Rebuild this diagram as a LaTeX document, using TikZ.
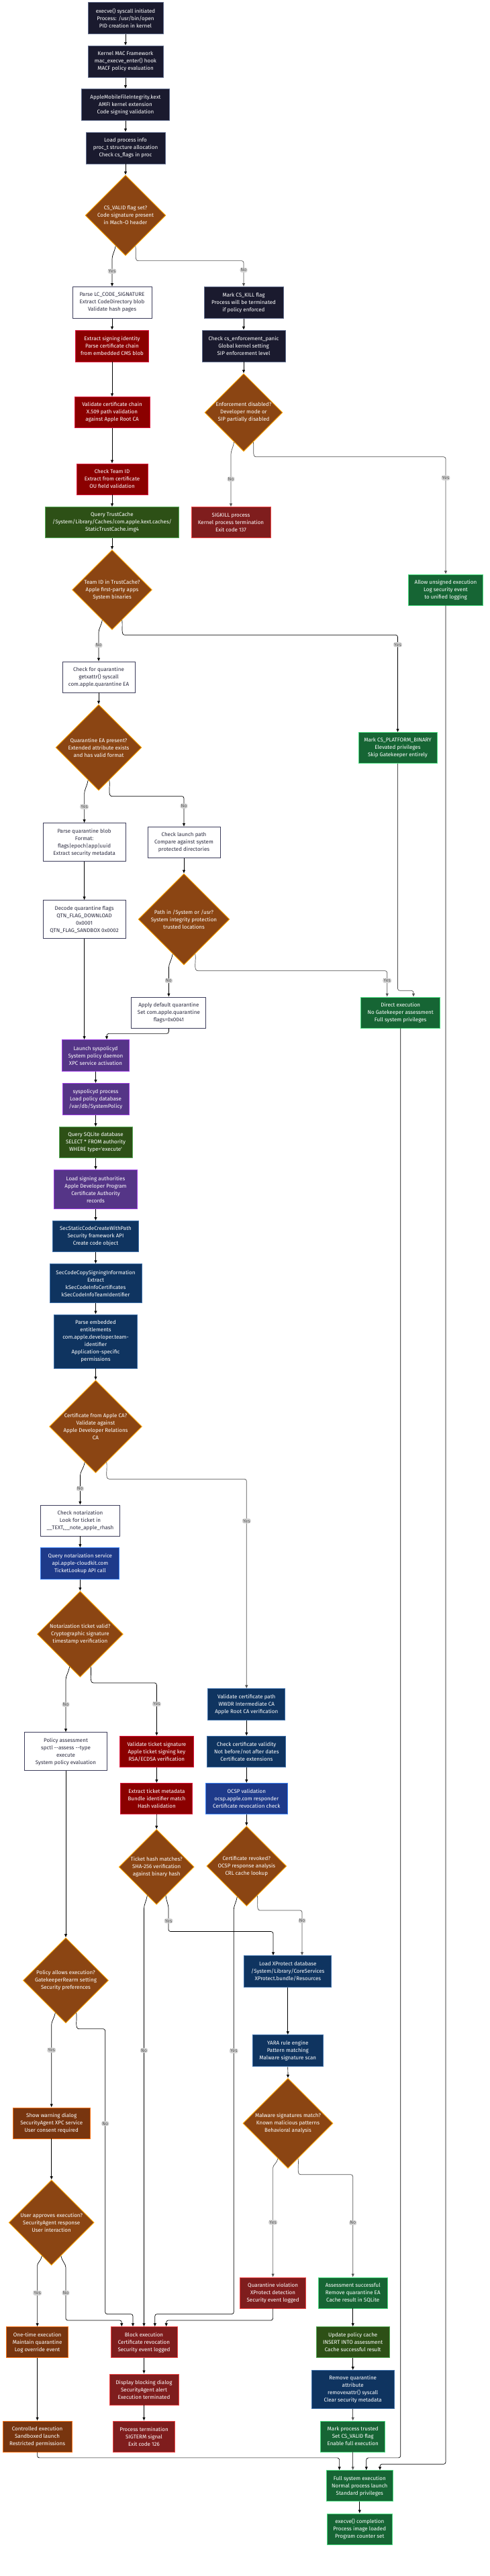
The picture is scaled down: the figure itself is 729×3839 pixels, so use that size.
\documentclass[tikz,border=0pt]{standalone}
\usepackage{fontspec}
\setmainfont{Fira Sans}
\usepackage{xcolor}
\usepackage{tikz}
\usetikzlibrary{shapes.geometric,arrows.meta,calc}
\definecolor{kernelnavy}{RGB}{26,26,46}
\definecolor{kernelnavyedge}{RGB}{96,108,140}
\definecolor{plainedge}{RGB}{62,62,92}
\definecolor{plaintext}{RGB}{44,44,64}
\definecolor{certred}{RGB}{139,0,0}
\definecolor{certedge}{RGB}{220,20,60}
\definecolor{killred}{RGB}{127,29,29}
\definecolor{killedge}{RGB}{239,68,68}
\definecolor{dbgreen}{RGB}{45,80,22}
\definecolor{dbedge}{RGB}{84,170,84}
\definecolor{okgreen}{RGB}{22,101,52}
\definecolor{okedge}{RGB}{74,222,128}
\definecolor{daemonpurple}{RGB}{85,53,135}
\definecolor{daemonedge}{RGB}{156,60,226}
\definecolor{apinavy}{RGB}{15,52,96}
\definecolor{apiedge}{RGB}{62,112,170}
\definecolor{netblue}{RGB}{30,58,138}
\definecolor{netedge}{RGB}{59,130,246}
\definecolor{userbrown}{RGB}{120,53,15}
\definecolor{useredge}{RGB}{249,115,22}
\definecolor{decisionfill}{RGB}{139,69,19}
\definecolor{decisionedge}{RGB}{255,165,0}
\definecolor{lblfill}{RGB}{212,212,212}
\definecolor{lbltext}{RGB}{85,85,85}
\definecolor{edgegray}{RGB}{80,80,80}

\begin{document}
\begin{tikzpicture}[x=1pt,y=1pt,
    box/.style={rectangle,line width=0.9pt,align=center,text=white,inner sep=2pt,font=\fontsize{8}{11}\selectfont},
    sz/.style 2 args={minimum width=#1pt,minimum height=#2pt},
    navybox/.style={box,draw=kernelnavyedge,fill=kernelnavy},
    plainbox/.style={box,draw=plainedge,fill=white,text=plaintext},
    certbox/.style={box,draw=certedge,fill=certred},
    killbox/.style={box,draw=killedge,fill=killred},
    dbbox/.style={box,draw=dbedge,fill=dbgreen},
    okbox/.style={box,draw=okedge,fill=okgreen},
    daemonbox/.style={box,draw=daemonedge,fill=daemonpurple},
    apibox/.style={box,draw=apiedge,fill=apinavy},
    netbox/.style={box,draw=netedge,fill=netblue},
    userbox/.style={box,draw=useredge,fill=userbrown},
    decision/.style={diamond,aspect=1,inner sep=0pt,line width=0.9pt,draw=decisionedge,fill=decisionfill,align=center,text=white,font=\fontsize{8}{11}\selectfont},
    lbl/.style={fill=lblfill,text=lbltext,inner sep=1.2pt,font=\fontsize{7}{8}\selectfont},
    arr/.style={-{Latex[length=5pt,width=4.5pt]},line width=0.7pt,rounded corners=3pt},
    garr/.style={arr,draw=edgegray}]
\useasboundingbox (0,0) rectangle (729,-3839);

\node[navybox,sz={112}{47}] (execve) at (187,-27) {execve() syscall initiated\\Process: /usr/bin/open\\PID creation in kernel};
\node[navybox,sz={112}{47}] (macf) at (187,-91.7) {Kernel MAC Framework\\mac\_execve\_enter() hook\\MACF policy evaluation};
\node[navybox,sz={131}{47}] (amfi) at (187,-156) {AppleMobileFileIntegrity.kext\\AMFI kernel extension\\Code signing validation};
\node[navybox,sz={118}{47}] (procinfo) at (187,-220.5) {Load process info\\proc\_t structure allocation\\Check cs\_flags in proc};
\node[decision,minimum size=120pt] (csvalid) at (187,-321) {CS\_VALID flag set?\\Code signature present\\in Mach-O header};
\node[plainbox,sz={118}{47}] (parselc) at (167,-451) {Parse LC\_CODE\_SIGNATURE\\Extract CodeDirectory blob\\Validate hash pages};
\node[navybox,sz={118}{47}] (cskill) at (363,-451) {Mark CS\_KILL flag\\Process will be terminated\\if policy enforced};
\node[certbox,sz={109}{47}] (signid) at (167,-515.5) {Extract signing identity\\Parse certificate chain\\from embedded CMS blob};
\node[navybox,sz={124}{47}] (enfpanic) at (363,-515.5) {Check cs\_enforcement\_panic\\Global kernel setting\\SIP enforcement level};
\node[certbox,sz={112}{46}] (certchain) at (167,-614.7) {Validate certificate chain\\X.509 path validation\\against Apple Root CA};
\node[decision,minimum size=116pt] (enfoff) at (363,-614.7) {Enforcement disabled?\\Developer mode or\\SIP partially disabled};
\node[certbox,sz={106}{46}] (teamid) at (167,-714) {Check Team ID\\Extract from certificate\\OU field validation};
\node[killbox,sz={118}{46}] (sigkill) at (344,-778.7) {SIGKILL process\\Kernel process termination\\Exit code 137};
\node[dbbox,sz={199}{46}] (trustcache) at (167,-778.7) {Query TrustCache\\/System/Library/Caches/com.apple.kext.caches/\\StaticTrustCache.img4};
\node[decision,minimum size=119pt] (intrust) at (167,-879) {Team ID in TrustCache?\\Apple first-party apps\\System binaries};
\node[okbox,sz={111}{46}] (allowunsigned) at (664,-879) {Allow unsigned execution\\Log security event\\to unified logging};
\node[plainbox,sz={108}{46}] (chkquar) at (147,-1009) {Check for quarantine\\getxattr() syscall\\com.apple.quarantine EA};
\node[decision,minimum size=128pt] (quarea) at (147,-1114) {Quarantine EA present?\\Extended attribute exists\\and has valid format};
\node[okbox,sz={117}{46}] (platbin) at (592.5,-1114.7) {Mark CS\_PLATFORM\_BINARY\\Elevated privileges\\Skip Gatekeeper entirely};
\node[plainbox,sz={123}{57}] (parseblob) at (125.6,-1255.3) {Parse quarantine blob\\Format:\\flags|epoch|app|uuid\\Extract security metadata};
\node[plainbox,sz={108}{46}] (launchpath) at (274,-1255.3) {Check launch path\\Compare against system\\protected directories};
\node[plainbox,sz={123}{57}] (qflags) at (125.6,-1370.3) {Decode quarantine flags\\QTN\_FLAG\_DOWNLOAD\\0x0001\\QTN\_FLAG\_SANDBOX 0x0002};
\node[decision,minimum size=136pt] (syspath) at (274,-1370) {Path in /System or /usr?\\System integrity protection\\trusted locations};
\node[plainbox,sz={111}{46}] (defquar) at (251.4,-1509) {Apply default quarantine\\Set com.apple.quarantine\\flags=0x0041};
\node[okbox,sz={118}{46}] (directexec) at (596.7,-1509) {Direct execution\\No Gatekeeper assessment\\Full system privileges};
\node[daemonbox,sz={100}{47}] (launchspd) at (142.5,-1573.3) {Launch syspolicyd\\System policy daemon\\XPC service activation};
\node[daemonbox,sz={99}{47}] (spdproc) at (142.5,-1638) {syspolicyd process\\Load policy database\\/var/db/SystemPolicy};
\node[dbbox,sz={109}{46}] (sqlq) at (142.5,-1702.5) {Query SQLite database\\SELECT * FROM authority\\WHERE type=\textquotesingle execute\textquotesingle};
\node[daemonbox,sz={124}{58}] (authorities) at (142.5,-1772.5) {Load signing authorities\\Apple Developer Program\\Certificate Authority\\records};
\node[apibox,sz={128.5}{46}] (staticcode) at (142.5,-1842.5) {SecStaticCodeCreateWithPath\\Security framework API\\Create code object};
\node[apibox,sz={137}{58}] (signinfo) at (142.5,-1912.7) {SecCodeCopySigningInformation\\Extract\\kSecCodeInfoCertificates\\kSecCodeInfoTeamIdentifier};
\node[apibox,sz={124}{80}] (entitlements) at (142.5,-1999) {Parse embedded\\entitlements\\com.apple.developer.team-\\identifier\\Application-specific\\permissions};
\node[decision,minimum size=138pt] (appleca) at (142.5,-2126) {Certificate from Apple CA?\\Validate against\\Apple Developer Relations\\CA};
\node[plainbox,sz={118}{46}] (chknotar) at (119.4,-2266) {Check notarization\\Look for ticket in\\\_\_TEXT,\_\_note\_apple\_rhash};
\node[netbox,sz={117}{47}] (notarsvc) at (119.4,-2330.3) {Query notarization service\\api.apple-cloudkit.com\\TicketLookup API call};
\node[decision,minimum size=128pt] (ticketok) at (119.4,-2435.3) {Notarization ticket valid?\\Cryptographic signature\\timestamp verification};
\node[apibox,sz={115}{47}] (certpath) at (367.3,-2540.3) {Validate certificate path\\WWDR Intermediate CA\\Apple Root CA verification};
\node[plainbox,sz={123}{57}] (policy) at (98,-2610.3) {Policy assessment\\spctl -{}-assess -{}-type\\execute\\System policy evaluation};
\node[certbox,sz={110}{46}] (ticketsig) at (233.4,-2610.3) {Validate ticket signature\\Apple ticket signing key\\RSA/ECDSA verification};
\node[apibox,sz={117}{46}] (certvalid) at (367.3,-2610.3) {Check certificate validity\\Not before/not after dates\\Certificate extensions};
\node[certbox,sz={107}{46}] (ticketmeta) at (233.4,-2680.5) {Extract ticket metadata\\Bundle identifier match\\Hash validation};
\node[netbox,sz={122}{46}] (ocsp) at (367.3,-2680.5) {OCSP validation\\ocsp.apple.com responder\\Certificate revocation check};
\node[decision,minimum size=112pt] (hashok) at (233.2,-2782.3) {Ticket hash matches?\\SHA-256 verification\\against binary hash};
\node[decision,minimum size=119pt] (revoked) at (367.3,-2781) {Certificate revoked?\\OCSP response analysis\\CRL cache lookup};
\node[decision,minimum size=127pt] (allows) at (98,-2951.3) {Policy allows execution?\\GatekeeperRearm setting\\Security preferences};
\node[apibox,sz={130}{47}] (xprotect) at (428.8,-2938.2) {Load XProtect database\\/System/Library/CoreServices\\XProtect.bundle/Resources};
\node[apibox,sz={105}{47}] (yara) at (428.8,-3056.3) {YARA rule engine\\Pattern matching\\Malware signature scan};
\node[decision,minimum size=134pt] (malware) at (429,-3164.3) {Malware signatures match?\\Known malicious patterns\\Behavioral analysis};
\node[userbox,sz={114.5}{46}] (warning) at (76.7,-3164) {Show warning dialog\\SecurityAgent XPC service\\User consent required};
\node[decision,minimum size=127pt] (approves) at (76.7,-3312.3) {User approves execution?\\SecurityAgent response\\User interaction};
\node[killbox,sz={98.6}{46}] (violation) at (406.6,-3417) {Quarantine violation\\XProtect detection\\Security event logged};
\node[okbox,sz={103}{46}] (assessok) at (525.7,-3417) {Assessment successful\\Remove quarantine EA\\Cache result in SQLite};
\node[userbox,sz={92.5}{46}] (onetime) at (55.6,-3490.8) {One-time execution\\Maintain quarantine\\Log override event};
\node[killbox,sz={99}{46}] (block) at (214.5,-3490.8) {Block execution\\Certificate revocation\\Security event logged};
\node[dbbox,sz={109}{46}] (polcache) at (525.7,-3490.8) {Update policy cache\\INSERT INTO assessment\\Cache successful result};
\node[killbox,sz={103}{46}] (blockdlg) at (214.5,-3561) {Display blocking dialog\\SecurityAgent alert\\Execution terminated};
\node[apibox,sz={123}{57}] (rmquar) at (525.7,-3561) {Remove quarantine\\attribute\\removexattr() syscall\\Clear security metadata};
\node[userbox,sz={103}{46}] (controlled) at (55.6,-3631) {Controlled execution\\Sandboxed launch\\Restricted permissions};
\node[killbox,sz={92.5}{46}] (sigterm) at (214.5,-3631) {Process termination\\SIGTERM signal\\Exit code 126};
\node[okbox,sz={96}{46}] (trusted) at (525.7,-3631) {Mark process trusted\\Set CS\_VALID flag\\Enable full execution};
\node[okbox,sz={99.5}{46}] (fullexec) at (535.8,-3704.7) {Full system execution\\Normal process launch\\Standard privileges};
\node[okbox,sz={97}{46}] (done) at (535.8,-3769) {execve() completion\\Process image loaded\\Program counter set};

\foreach \a/\b in {execve/macf,macf/amfi,amfi/procinfo,procinfo/csvalid,
    parselc/signid,signid/certchain,certchain/teamid,teamid/trustcache,trustcache/intrust,
    cskill/enfpanic,enfpanic/enfoff,chkquar/quarea,parseblob/qflags,launchpath/syspath,
    launchspd/spdproc,spdproc/sqlq,sqlq/authorities,authorities/staticcode,staticcode/signinfo,
    signinfo/entitlements,entitlements/appleca,chknotar/notarsvc,notarsvc/ticketok,
    certpath/certvalid,certvalid/ocsp,ticketsig/ticketmeta,ticketmeta/hashok,ocsp/revoked,
    policy/allows,xprotect/yara,yara/malware,warning/approves,onetime/controlled,
    block/blockdlg,blockdlg/sigterm,assessok/polcache,polcache/rmquar,fullexec/done}
  \draw[arr] (\a.south) -- (\b.north);
\draw[garr] (rmquar.south) -- (trusted.north);

\draw[arr] (csvalid.-108) to[out=-100,in=90] ($(parselc.north)+(0,38)$) -- node[lbl,pos=0.4] (yes1) {Yes} (parselc.north);
\draw[garr] (csvalid.-72) to[out=-80,in=180] ++(7,-22) -| node[lbl,pos=0.68] (no1) {No} (cskill.north);
\draw[garr] (enfoff.-108) to[out=-100,in=90] ($(sigkill.north)+(0,75)$) -- node[lbl,pos=0.45] (no2) {No} (sigkill.north);
\draw[garr] (enfoff.-72) to[out=-80,in=180] ++(7,-22) -| node[lbl,pos=0.59] (yes2) {Yes} (allowunsigned.north);
\draw[arr] (intrust.-108) to[out=-100,in=90] ($(chkquar.north)+(0,40)$) -- node[lbl,pos=0.4] (no3) {No} (chkquar.north);
\draw[arr] (intrust.-72) to[out=-80,in=180] ++(7,-22) -| node[lbl,pos=0.55] (yes3) {Yes} (platbin.north);
\draw[arr] (quarea.-108) to[out=-100,in=90] ($(parseblob.north)+(0,40)$) -- node[lbl,pos=0.4] (yes4) {Yes} (parseblob.north);
\draw[arr] (quarea.-72) to[out=-80,in=180] ++(7,-24) -| node[lbl,pos=0.66] (no4) {No} (launchpath.north);
\draw[arr] (syspath.-108) to[out=-100,in=90] ($(defquar.north)+(0,40)$) -- node[lbl,pos=0.4] (no5) {No} (defquar.north);
\draw[garr] (syspath.-72) to[out=-80,in=180] ++(7,-25) -| node[lbl,pos=0.69] (yes5) {Yes} ($(directexec.north)+(-20,0)$);
\draw[garr] (platbin.south) |- ($(directexec.north)+(19.3,9.3)$) -- ($(directexec.north)+(19.3,0)$);
\draw[arr] (qflags.south) -- (qflags.south |- launchspd.north);
\draw[arr] (defquar.south) |- ($(launchspd.north)+(16.5,9)$) -- ($(launchspd.north)+(16.5,0)$);
\draw[arr] (appleca.-107) to[out=-100,in=90] ($(chknotar.north)+(0,40)$) -- node[lbl,pos=0.4] (no6) {No} (chknotar.north);
\draw[garr] (appleca.-73) to[out=-80,in=180] ++(7,-25) -| node[lbl,pos=0.6] (yes6) {Yes} (certpath.north);
\draw[arr] (ticketok.-108) to[out=-100,in=90] ($(policy.north)+(0,75)$) -- node[lbl,pos=0.45] (no7) {No} (policy.north);
\draw[arr] (ticketok.-72) to[out=-80,in=180] ++(7,-24) -| node[lbl,pos=0.7] (yes7) {Yes} (ticketsig.north);
\draw[arr] (hashok.-108) to[out=-100,in=90] ($(block.north)+(0,620)$) -- node[lbl,pos=0.336] (no8) {No} (block.north);
\draw[arr] (hashok.-72) to[out=-85,in=90] ++(4,-22) |- node[lbl,pos=0.25] (yes8) {Yes} ($(xprotect.north)+(-21.8,35.7)$) -- ($(xprotect.north)+(-21.8,0)$);
\draw[arr] (revoked.-107) to[out=-100,in=90] ++(-5,-22) |- node[lbl,pos=0.173] (yes9) {Yes} ($(block.north)+(16.3,18.7)$) -- ($(block.north)+(16.3,0)$);
\draw[garr] (revoked.-70) to[out=-80,in=180] ++(7,-22) -| node[lbl,pos=0.615] (no9) {No} ($(xprotect.north)+(21.2,0)$);
\draw[arr] (allows.-108) to[out=-100,in=90] ($(warning.north)+(0,120)$) -- node[lbl,pos=0.29] (yes10) {Yes} (warning.north);
\draw[arr] (allows.-72) to[out=-80,in=180] ++(7,-24) -- ++(36,0) |- node[lbl,pos=0.166] (no10) {No} ($(block.north)+(-16.5,18.7)$) -- ($(block.north)+(-16.5,0)$);
\draw[garr] (malware.-106) to[out=-100,in=90] ($(violation.north)+(0,160)$) -- node[lbl,pos=0.49] (yes11) {Yes} (violation.north);
\draw[garr] (malware.-74) to[out=-80,in=180] ++(7,-24) -| node[lbl,pos=0.735] (no11) {No} (assessok.north);
\draw[arr] (approves.-106) to[out=-100,in=90] ($(onetime.north)+(0,88)$) -- node[lbl,pos=0.43] (yes12) {Yes} (onetime.north);
\draw[arr] (approves.-74) to[out=-80,in=90] ++(7,-20) |- node[lbl,pos=0.23] (no12) {No} ($(block.north)+(-33.2,9.4)$) -- ($(block.north)+(-33.2,0)$);
\draw[arr] (violation.south) |- ($(block.north)+(33.2,9.4)$) -- ($(block.north)+(33.2,0)$);
\draw[arr] (controlled.south) |- ($(fullexec.north)+(-30.2,18.4)$) -- ($(fullexec.north)+(-30.2,0)$);
\draw[garr] (trusted.south) -- (trusted.south |- fullexec.north);
\draw[arr] (directexec.south) |- ($(fullexec.north)+(10,18.4)$) -- ($(fullexec.north)+(10,0)$);
\draw[arr] (allowunsigned.south) |- ($(fullexec.north)+(30.2,9)$) -- ($(fullexec.north)+(30.2,0)$);
\end{tikzpicture}
\end{document}
